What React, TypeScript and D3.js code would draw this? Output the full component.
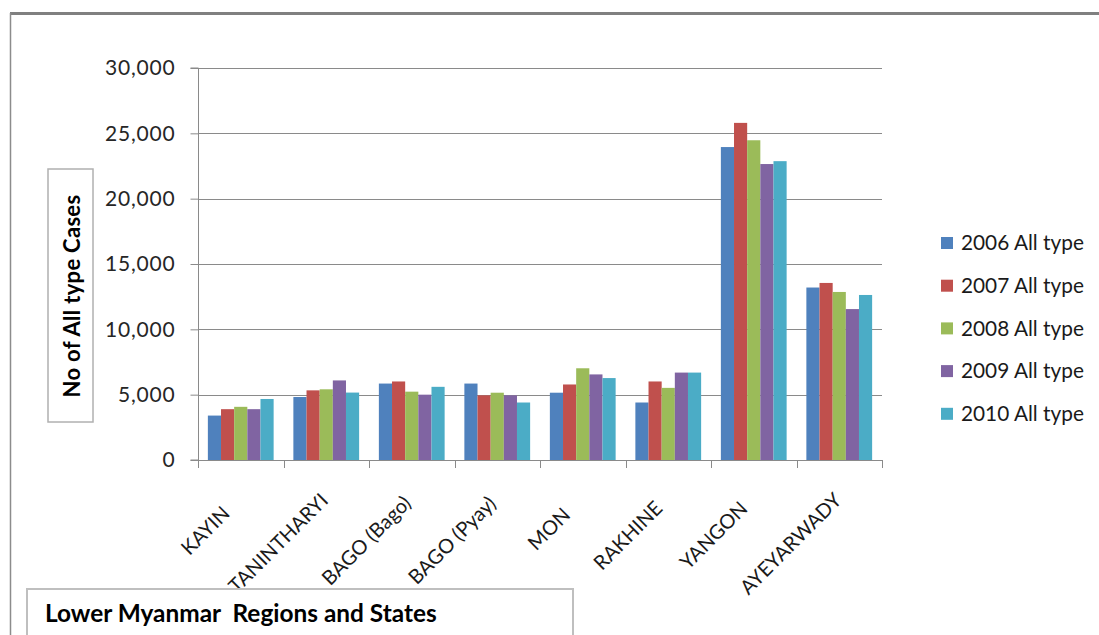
import React, { useEffect, useRef } from "react";
import * as d3 from "d3";

// Lower Myanmar regions/states, all-type cases by year
const categories = [
  "KAYIN",
  "TANINTHARYI",
  "BAGO (Bago)",
  "BAGO (Pyay)",
  "MON",
  "RAKHINE",
  "YANGON",
  "AYEYARWADY",
];
const seriesNames = [
  "2006 All type",
  "2007 All type",
  "2008 All type",
  "2009 All type",
  "2010 All type",
];
const cases2006 = [3400, 4820, 5850, 5850, 5150, 4400, 23950, 13200];
const cases2007 = [3890, 5330, 6010, 4950, 5780, 6010, 25800, 13550];
const cases2008 = [4070, 5410, 5230, 5150, 7020, 5520, 24470, 12860];
const cases2009 = [3890, 6090, 5000, 4950, 6550, 6690, 22650, 11550];
const cases2010 = [4670, 5160, 5600, 4400, 6270, 6690, 22870, 12630];
const yTicks = [0, 5000, 10000, 15000, 20000, 25000, 30000];
const colors = ["#4F81BD", "#C0504D", "#9BBB59", "#8064A2", "#4BACC6"];

const seriesValues = [cases2006, cases2007, cases2008, cases2009, cases2010];

const W = 1099;
const H = 635;
const FONT = "Lato, 'Open Sans', sans-serif";

export default function App() {
  const ref = useRef<SVGSVGElement | null>(null);

  useEffect(() => {
    const svg = d3.select(ref.current);
    svg.selectAll("*").remove();

    const left = 198;
    const right = 882;
    const top = 68;
    const bottom = 460;

    const x = d3.scaleBand<string>().domain(categories).range([left, right]).padding(0);
    const y = d3.scaleLinear().domain([0, 30000]).range([bottom, top]);
    const step = x.bandwidth();
    const barW = step / 6.5;
    const inner = d3
      .scaleBand<number>()
      .domain(d3.range(seriesValues.length))
      .range([(step - barW * 5) / 2, (step + barW * 5) / 2])
      .padding(0);

    // outer frame
    svg
      .append("rect")
      .attr("x", 0)
      .attr("y", 0)
      .attr("width", W)
      .attr("height", H)
      .attr("fill", "#fff");
    svg
      .append("line")
      .attr("x1", 10)
      .attr("x2", W)
      .attr("y1", 13.5)
      .attr("y2", 13.5)
      .attr("stroke", "#808080")
      .attr("stroke-width", 3);
    svg
      .append("line")
      .attr("x1", 10.5)
      .attr("x2", 10.5)
      .attr("y1", 13)
      .attr("y2", H)
      .attr("stroke", "#8c8c8c")
      .attr("stroke-width", 1.5);

    // gridlines
    const grid = svg.append("g");
    grid
      .selectAll("line")
      .data(yTicks.filter((t) => t > 0))
      .join("line")
      .attr("x1", left)
      .attr("x2", right)
      .attr("y1", (d) => Math.round(y(d)) + 0.5)
      .attr("y2", (d) => Math.round(y(d)) + 0.5)
      .attr("stroke", "#8a8a8a")
      .attr("stroke-width", 1);

    // bars
    const groups = svg
      .append("g")
      .selectAll("g")
      .data(seriesValues)
      .join("g")
      .attr("fill", (_, i) => colors[i]);
    groups
      .selectAll("rect")
      .data((vals, si) => vals.map((v, ci) => ({ v, ci, si })))
      .join("rect")
      .attr("x", (d) => (x(categories[d.ci]) as number) + (inner(d.si) as number))
      .attr("width", barW)
      .attr("y", (d) => y(d.v))
      .attr("height", (d) => bottom - y(d.v));

    // y axis
    const yAxis = d3
      .axisLeft(y)
      .tickValues(yTicks)
      .tickSize(8)
      .tickPadding(15)
      .tickFormat((d) => d3.format(",")(d as number));
    const yg = svg.append("g").attr("transform", `translate(${left + 0.5},0)`).call(yAxis);
    yg.select(".domain").attr("stroke", "#8a8a8a").attr("d", `M-8,${top}H0V${bottom}H-8`);
    yg.selectAll(".tick line").attr("stroke", "#8a8a8a");
    yg.selectAll(".tick text")
      .attr("fill", "#262626")
      .style("font-family", FONT)
      .style("font-size", "21px")
      .style("letter-spacing", "0.8px");

    // x axis line and category ticks
    const xg = svg.append("g");
    xg.append("line")
      .attr("x1", left)
      .attr("x2", right)
      .attr("y1", bottom + 0.5)
      .attr("y2", bottom + 0.5)
      .attr("stroke", "#8a8a8a");
    const bounds = categories.map((c) => x(c) as number).concat([right]);
    xg.selectAll("line.t")
      .data(bounds)
      .join("line")
      .attr("class", "t")
      .attr("x1", (d) => Math.round(d) + 0.5)
      .attr("x2", (d) => Math.round(d) + 0.5)
      .attr("y1", bottom)
      .attr("y2", bottom + 8)
      .attr("stroke", "#8a8a8a");

    // rotated category labels
    const labels = xg
      .selectAll("text")
      .data(categories)
      .join("text")
      .text((d) => d)
      .attr("text-anchor", "end")
      .attr("fill", "#1a1a1a")
      .style("font-family", FONT)
      .style("font-size", "20px");
    labels.each(function (d) {
      const el = this as SVGTextElement;
      const len = el.getComputedTextLength();
      const cx = (x(d) as number) + step / 2;
      const shift = len * 0.25 * Math.SQRT1_2;
      el.setAttribute(
        "transform",
        `translate(${cx - 20 + shift},${525 - shift}) rotate(-45)`
      );
    });

    // y axis title box
    svg
      .append("rect")
      .attr("x", 48)
      .attr("y", 169)
      .attr("width", 45)
      .attr("height", 253)
      .attr("fill", "#fff")
      .attr("stroke", "#b0b0b0")
      .attr("stroke-width", 1.5);
    svg
      .append("text")
      .attr("transform", "translate(79.5,296) rotate(-90)")
      .attr("text-anchor", "middle")
      .attr("fill", "#000")
      .style("font-family", FONT)
      .style("font-weight", "bold")
      .style("font-size", "22px")
      .style("letter-spacing", "0.3px")
      .text("No of All type Cases");

    // legend
    const legend = svg
      .append("g")
      .selectAll("g")
      .data(seriesNames)
      .join("g")
      .attr("transform", (_, i) => `translate(941,${243 + i * 42.7})`);
    legend
      .append("rect")
      .attr("x", 0)
      .attr("y", -6)
      .attr("width", 12)
      .attr("height", 12)
      .attr("fill", (_, i) => colors[i]);
    legend
      .append("text")
      .attr("x", 20)
      .attr("dy", "0.35em")
      .attr("fill", "#1a1a1a")
      .style("font-family", FONT)
      .style("font-size", "20.8px")
      .text((d) => d);

    // region title box
    svg
      .append("rect")
      .attr("x", 27)
      .attr("y", 589)
      .attr("width", 546)
      .attr("height", 60)
      .attr("fill", "#fff")
      .attr("stroke", "#bfbfbf")
      .attr("stroke-width", 2);
    svg
      .append("text")
      .attr("x", 45)
      .attr("y", 622)
      .attr("fill", "#000")
      .style("font-family", FONT)
      .style("font-weight", "bold")
      .style("font-size", "24.4px")
      .style("white-space", "pre")
      .attr("xml:space", "preserve")
      .text("Lower Myanmar  Regions and States");
  }, []);

  return (
    <svg
      ref={ref}
      width={W}
      height={H}
      style={{ position: "absolute", left: 0, top: 0, display: "block" }}
    />
  );
}
